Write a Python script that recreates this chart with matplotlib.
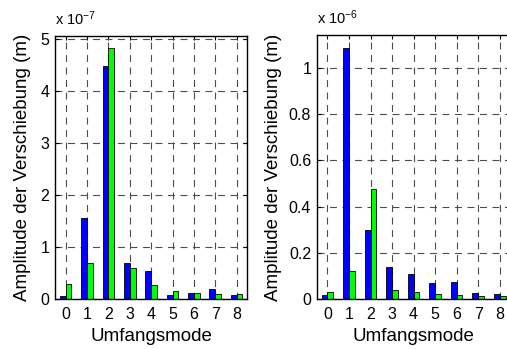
import numpy as np
import matplotlib
matplotlib.use("Agg")
import matplotlib.pyplot as plt

plt.rcParams['font.family'] = ['Liberation Sans', 'DejaVu Sans']
plt.rcParams['mathtext.fontset'] = 'custom'
plt.rcParams['mathtext.rm'] = 'Liberation Sans'
plt.rcParams['lines.scale_dashes'] = False

modes = [0, 1, 2, 3, 4, 5, 6, 7, 8]

# links, in 1e-7 m
left_blue = [0.06, 1.55, 4.47, 0.70, 0.54, 0.08, 0.12, 0.19, 0.08]
left_green = [0.29, 0.70, 4.82, 0.59, 0.26, 0.16, 0.12, 0.10, 0.10]

# rechts, in 1e-6 m
right_blue = [0.017, 1.085, 0.30, 0.14, 0.11, 0.069, 0.073, 0.026, 0.022]
right_green = [0.030, 0.121, 0.475, 0.037, 0.032, 0.022, 0.017, 0.013, 0.013]

left_yticks = [0, 1, 2, 3, 4, 5]
left_yticklabels = ['0', '1', '2', '3', '4', '5']
right_yticks = [0, 0.2, 0.4, 0.6, 0.8, 1.0]
right_yticklabels = ['0', '0.2', '0.4', '0.6', '0.8', '1']

fig = plt.figure(figsize=(5.07, 3.49), dpi=100)
W, H = 507.0, 349.0


def make_axes(x0, x1, y0, y1):
    return fig.add_axes([x0 / W, 1 - y1 / H, (x1 - x0) / W, (y1 - y0) / H])


def draw(ax, blue, green, ymax, yticks, yticklabels, exponent, ypad):
    x = np.array(modes)
    w = 0.27
    ax.bar(x - w / 2, blue, width=w, color='#0000ff', edgecolor='black',
           linewidth=0.6, zorder=3)
    ax.bar(x + w / 2, green, width=w, color='#00ff00', edgecolor='black',
           linewidth=0.6, zorder=3)
    ax.set_xlim(-0.5, 8.5)
    ax.set_ylim(0, ymax)
    ax.set_xticks(modes)
    ax.set_yticks(yticks)
    ax.set_yticklabels(yticklabels)
    ax.grid(True, color='0.3', linestyle=(0, (5, 4)), linewidth=0.8, zorder=1)
    ax.set_axisbelow(True)
    ax.tick_params(direction='in', length=3, width=0.8, labelsize=11.5,
                   top=True, right=True)
    ax.tick_params(axis='x', pad=6)
    ax.tick_params(axis='y', pad=4)
    for s in ax.spines.values():
        s.set_linewidth(1.0)
        s.set_color('black')
        s.set_zorder(5)
    ax.set_xlabel('Umfangsmode', fontsize=13.5, labelpad=4)
    ax.set_ylabel('Amplitude der Verschiebung (m)', fontsize=13.5, labelpad=ypad)
    ax.text(0.0, 1.03, r'x $\mathregular{10^{%d}}$' % exponent,
            transform=ax.transAxes, fontsize=10.5, ha='left', va='bottom')


ax1 = make_axes(55, 247.3, 35.7, 299)
draw(ax1, left_blue, left_green, 5.06, left_yticks, left_yticklabels, -7, 7)

ax2 = make_axes(316.7, 510.5, 35.0, 299)
draw(ax2, right_blue, right_green, 1.143, right_yticks, right_yticklabels, -6, 5)

fig.savefig('out.png', dpi=100)
